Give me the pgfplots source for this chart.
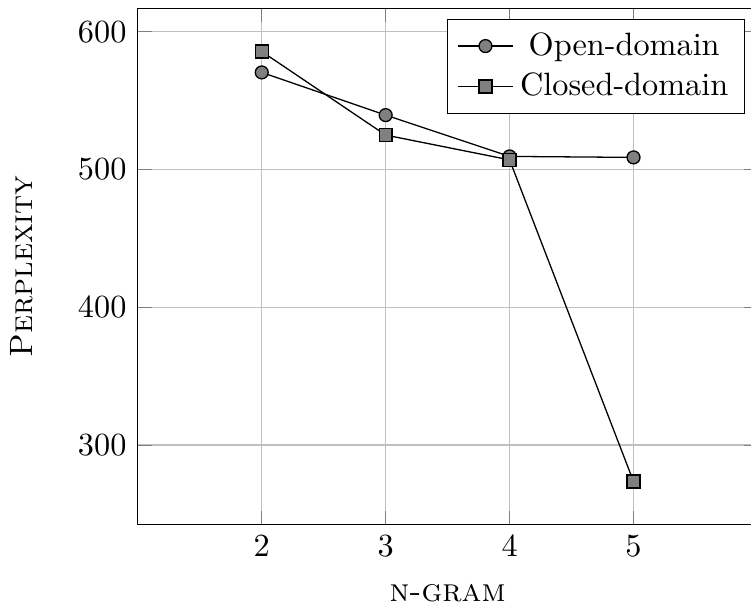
\documentclass[border=0pt]{standalone}
\usepackage{pgfplots}
\pgfplotsset{compat=1.18}
\begin{document}
\begin{tikzpicture}
\begin{axis}[
  scale only axis,
  width=192pt, height=160pt,
  xmin=1, xmax=6, ymin=242, ymax=617,
  xtick={2,3,4,5}, ytick={300,400,500,600},
  grid=major,
  xlabel={\textsc{n-gram}},
  ylabel={\textsc{Perplexity}},
  ylabel shift=7pt,
  xlabel shift=1.5pt,
  legend style={at={(0.98,0.98)}, anchor=north east},
  legend cell align=center,
]
\addplot[black, mark=*, mark options={fill=gray}] coordinates {(2,570.5) (3,539.5) (4,509.5) (5,508.8)};
\addplot[black, mark=square*, mark options={fill=gray}] coordinates {(2,585.7) (3,525) (4,507) (5,273.4)};
\legend{Open-domain, Closed-domain}
\end{axis}
\pgfresetboundingbox
\path[use as bounding box] ([yshift=2.3pt]current axis.outer south west) rectangle ([xshift=-2pt,yshift=2.6pt]current axis.north east);
\end{tikzpicture}
\end{document}
